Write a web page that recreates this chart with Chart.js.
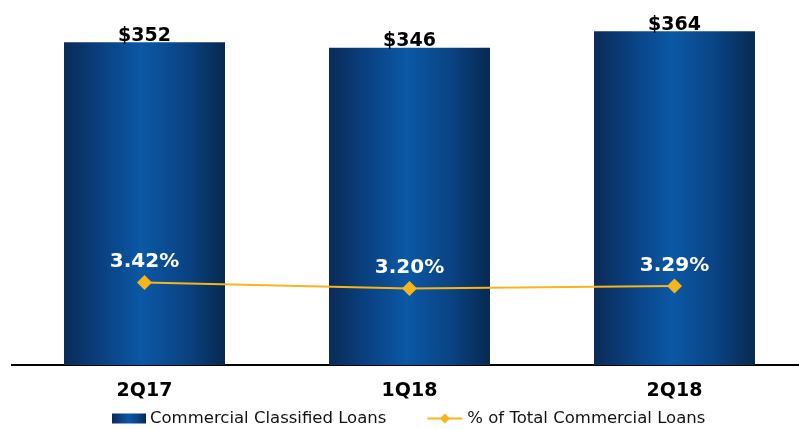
<!DOCTYPE html>
<html>
<head>
<meta charset="utf-8">
<script src="https://cdn.jsdelivr.net/npm/chart.js@4.4.1/dist/chart.umd.min.js"></script>
<style>
  html, body { margin: 0; padding: 0; background: #ffffff; }
  #wrap { width: 799px; height: 429px; position: relative; }
</style>
</head>
<body>
<div id="wrap"><canvas id="chart" width="799" height="429"></canvas></div>
<script>
// Quarterly commercial classified loans ($ millions) and their share of total commercial loans
const categories = ['2Q17', '1Q18', '2Q18'];
const classifiedLoans = [352, 346, 364];
const pctOfTotal = [3.42, 3.20, 3.29];
const barLabels = ['$352', '$346', '$364'];
const pctLabels = ['3.42%', '3.20%', '3.29%'];
const seriesNames = ['Commercial Classified Loans', '% of Total Commercial Loans'];

const FONT = '"DejaVu Sans", Verdana, sans-serif';
const GOLD = '#f8b519';
const BAR_PCT = 0.6075;
const AXIS_OVERHANG = 8; // category axis continues past the right edge

function blueGradient(ctx, x0, x1) {
  const g = ctx.createLinearGradient(x0, 0, x1, 0);
  g.addColorStop(0, '#0a2b57');
  g.addColorStop(0.25, '#0a4284');
  g.addColorStop(0.48, '#0b58a5');
  g.addColorStop(0.75, '#0a4485');
  g.addColorStop(1, '#072950');
  return g;
}

// Widen the category axis so its last slot runs beyond the canvas
const axisOverhang = {
  id: 'axisOverhang',
  afterLayout(chart) {
    const xs = chart.scales.x;
    xs.right += AXIS_OVERHANG;
    xs.width = xs.right - xs.left;
    xs.configure();
    chart.chartArea.right = xs.right;
    chart.chartArea.width = xs.width;
  }
};

// Value labels above bars and above line points
const valueLabels = {
  id: 'valueLabels',
  afterDatasetsDraw(chart) {
    const ctx = chart.ctx;
    ctx.save();
    ctx.textAlign = 'center';
    ctx.textBaseline = 'alphabetic';
    const barMeta = chart.getDatasetMeta(0);
    ctx.fillStyle = '#000000';
    ctx.font = 'bold 19px ' + FONT;
    barMeta.data.forEach((el, i) => {
      ctx.fillText(barLabels[i], el.x, el.y - 1.5);
    });
    const lineMeta = chart.getDatasetMeta(1);
    ctx.fillStyle = '#ffffff';
    ctx.font = 'bold 20px ' + FONT;
    lineMeta.data.forEach((el, i) => {
      ctx.fillText(pctLabels[i], el.x, el.y - 15.5);
    });
    ctx.restore();
  }
};

// Legend row along the bottom edge
const bottomLegend = {
  id: 'bottomLegend',
  afterDraw(chart) {
    const ctx = chart.ctx;
    ctx.save();
    ctx.font = '16.5px ' + FONT;
    ctx.textBaseline = 'middle';
    ctx.textAlign = 'left';
    const boxW = 34, gapBox = 4, gapItems = 41, lineW = 35, gapLine = 5;
    const t1 = ctx.measureText(seriesNames[0]).width;
    let x = chart.chartArea.left + 100;
    const cy = 418.5;
    ctx.fillStyle = blueGradient(ctx, x, x + boxW);
    ctx.fillRect(x, cy - 5, boxW, 10);
    x += boxW + gapBox;
    ctx.fillStyle = '#111111';
    ctx.fillText(seriesNames[0], x, cy);
    x += t1 + gapItems;
    ctx.strokeStyle = GOLD;
    ctx.lineWidth = 2;
    ctx.beginPath();
    ctx.moveTo(x, cy);
    ctx.lineTo(x + lineW, cy);
    ctx.stroke();
    const dx = x + lineW / 2, r = 5;
    ctx.fillStyle = GOLD;
    ctx.beginPath();
    ctx.moveTo(dx - r, cy);
    ctx.lineTo(dx, cy - r);
    ctx.lineTo(dx + r, cy);
    ctx.lineTo(dx, cy + r);
    ctx.closePath();
    ctx.fill();
    x += lineW + gapLine;
    ctx.fillStyle = '#111111';
    ctx.fillText(seriesNames[1], x, cy);
    ctx.restore();
  }
};

new Chart(document.getElementById('chart'), {
  data: {
    labels: categories,
    datasets: [
      {
        type: 'bar',
        label: seriesNames[0],
        data: classifiedLoans,
        yAxisID: 'y',
        order: 2,
        categoryPercentage: 1,
        barPercentage: BAR_PCT,
        borderWidth: 0,
        backgroundColor: (c) => {
          const chart = c.chart;
          const xs = chart.scales.x;
          if (!chart.chartArea || !xs || c.type !== 'data') return '#0b4e94';
          const cx = xs.getPixelForValue(c.dataIndex);
          const w = xs.width / categories.length * BAR_PCT;
          return blueGradient(chart.ctx, cx - w / 2, cx + w / 2);
        }
      },
      {
        type: 'line',
        label: seriesNames[1],
        data: pctOfTotal,
        yAxisID: 'y2',
        order: 1,
        borderColor: GOLD,
        borderWidth: 2,
        backgroundColor: GOLD,
        pointStyle: 'rectRot',
        pointRadius: 7.5,
        pointBackgroundColor: GOLD,
        pointBorderWidth: 0,
        tension: 0,
        fill: false,
        clip: false
      }
    ]
  },
  options: {
    responsive: false,
    animation: false,
    devicePixelRatio: 1,
    layout: { autoPadding: false, padding: { left: 12, right: 0, top: 0, bottom: 13 } },
    plugins: {
      legend: { display: false },
      tooltip: { enabled: false },
      title: { display: false }
    },
    scales: {
      x: {
        type: 'category',
        offset: true,
        grid: { display: false, drawTicks: false },
        border: { display: true, color: '#000000', width: 2 },
        ticks: {
          color: '#000000',
          padding: 14,
          font: { family: FONT, size: 19, weight: 'bold' }
        }
      },
      y: {
        display: false,
        min: 0,
        max: 398
      },
      y2: {
        display: false,
        position: 'right',
        min: 0.39,
        max: 13.77
      }
    }
  },
  plugins: [axisOverhang, valueLabels, bottomLegend]
});
</script>
</body>
</html>
